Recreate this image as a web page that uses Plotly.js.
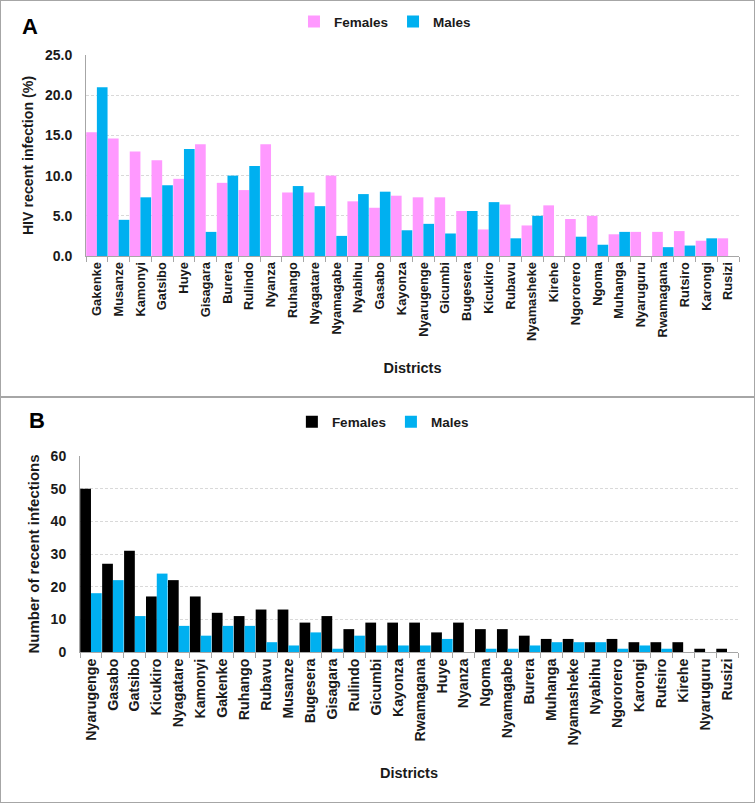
<!DOCTYPE html>
<html>
<head>
<meta charset="utf-8">
<script src="https://cdn.plot.ly/plotly-3.0.1.min.js"></script>
<style>
  body { margin: 0; background: #fff; }
  .chart { position: absolute; left: 0; width: 756px; }
  .box { position: absolute; border: 1.5px solid #a6a6a6; pointer-events: none; box-sizing: border-box; }
</style>
</head>
<body>
<div id="chartA" class="chart" style="top:0px;height:396px;"></div>
<div id="chartB" class="chart" style="top:398px;height:405px;"></div>
<div class="box" style="left:0px;top:0px;width:755px;height:397px;"></div>
<div class="box" style="left:0px;top:397px;width:755px;height:406px;"></div>
<script>
// Panel A: HIV recent infection (%) by district
var districtsA = ["Gakenke", "Musanze", "Kamonyi", "Gatsibo", "Huye", "Gisagara", "Burera", "Rulindo",
  "Nyanza", "Ruhango", "Nyagatare", "Nyamagabe", "Nyabihu", "Gasabo", "Kayonza", "Nyarugenge",
  "Gicumbi", "Bugesera", "Kicukiro", "Rubavu", "Nyamasheke", "Kirehe", "Ngororero", "Ngoma",
  "Muhanga", "Nyaruguru", "Rwamagana", "Rutsiro", "Karongi", "Rusizi"];
var femalesA = [15.4, 14.6, 13.0, 11.9, 9.6, 13.9, 9.1, 8.2, 13.9, 7.9, 7.9, 10.0, 6.8, 6.0, 7.5, 7.3,
  7.3, 5.6, 3.3, 6.4, 3.8, 6.3, 4.6, 5.0, 2.7, 3.0, 3.0, 3.1, 1.9, 2.2];
var malesA = [21.0, 4.5, 7.3, 8.8, 13.3, 3.0, 10.0, 11.2, 0, 8.7, 6.2, 2.5, 7.7, 8.0, 3.2, 4.0,
  2.8, 5.6, 6.7, 2.2, 5.0, 0, 2.4, 1.4, 3.0, 0, 1.1, 1.3, 2.2, 0];
var ticksA = [0, 5, 10, 15, 20, 25];

// Panel B: number of recent infections by district
var districtsB = ["Nyarugenge", "Gasabo", "Gatsibo", "Kicukiro", "Nyagatare", "Kamonyi", "Gakenke",
  "Ruhango", "Rubavu", "Musanze", "Bugesera", "Gisagara", "Rulindo", "Gicumbi", "Kayonza",
  "Rwamagana", "Huye", "Nyanza", "Ngoma", "Nyamagabe", "Burera", "Muhanga", "Nyamasheke",
  "Nyabihu", "Ngororero", "Karongi", "Rutsiro", "Kirehe", "Nyaruguru", "Rusizi"];
var femalesB = [50, 27, 31, 17, 22, 17, 12, 11, 13, 13, 9, 11, 7, 9, 9, 9, 6, 9, 7, 7, 5, 4, 4, 3, 4, 3, 3, 3, 1, 1];
var malesB = [18, 22, 11, 24, 8, 5, 8, 8, 3, 2, 6, 1, 5, 2, 2, 2, 4, 0, 1, 1, 2, 3, 3, 3, 1, 2, 1, 0, 0, 0];
var ticksB = [0, 10, 20, 30, 40, 50, 60];

var FONT = "'Liberation Sans', Arial, sans-serif";
var TXT = "#1a1a1a";

function makeLayout(opts) {
  var m = opts.margin;
  m.autoexpand = false;
  return {
    width: 756,
    height: opts.height,
    margin: m,
    paper_bgcolor: "rgba(0,0,0,0)",
    plot_bgcolor: "rgba(0,0,0,0)",
    barmode: "group",
    bargap: 0.02,
    bargroupgap: 0,
    showlegend: true,
    legend: {
      orientation: "h",
      x: opts.legX, xanchor: "left",
      y: opts.legY, yanchor: "middle",
      itemwidth: 30,
      font: {family: FONT, size: 13.5, color: TXT, weight: "bold"},
      bgcolor: "rgba(0,0,0,0)"
    },
    font: {family: FONT, color: TXT},
    xaxis: {
      type: "category",
      tickangle: -90,
      tickson: "boundaries",
      ticks: "outside",
      ticklen: 5,
      tickcolor: "#a6a6a6",
      showline: true,
      linecolor: "#a6a6a6",
      linewidth: 1,
      showgrid: false,
      automargin: false,
      tickfont: {family: FONT, size: opts.xTickSize, color: TXT, weight: "bold"},
      title: {text: "Districts", standoff: opts.xStandoff,
        font: {family: FONT, size: 14.5, color: TXT, weight: "bold"}}
    },
    yaxis: {
      range: opts.yRange,
      tickvals: opts.yTicks,
      ticktext: opts.yTicks.map(opts.fmt),
      showline: true,
      linecolor: "#a6a6a6",
      linewidth: 1,
      showgrid: true,
      gridcolor: "#d9d9d9",
      griddash: "3px,2px",
      zeroline: false,
      ticks: "",
      ticklabelstandoff: 10,
      automargin: false,
      tickfont: {family: FONT, size: 14, color: TXT, weight: "bold"},
      title: {text: opts.yTitle, standoff: 7,
        font: {family: FONT, size: opts.yTitleSize, color: TXT, weight: "bold"}}
    },
    annotations: [{
      text: opts.letter, xref: "paper", yref: "paper",
      x: opts.letX, y: opts.letY, xanchor: "left", yanchor: "middle",
      showarrow: false,
      font: {family: FONT, size: 22, color: "#000", weight: "bold"}
    }]
  };
}

var tracesA = [
  {type: "bar", name: "Females", x: districtsA, y: femalesA, marker: {color: "#ff99ff"}},
  {type: "bar", name: "Males", x: districtsA, y: malesA, marker: {color: "#00b0f0"}}
];
var layoutA = makeLayout({
  height: 396,
  margin: {l: 86, r: 17, t: 55, b: 140},
  yRange: [0, 25], yTicks: ticksA, fmt: function (v) { return v.toFixed(1); },
  yTitle: "HIV recent infection (%)", yTitleSize: 14.2,
  xTickSize: 12.9, xStandoff: 22,
  legX: 0.3185, legY: 1.166,
  letter: "A", letX: -0.101, letY: 1.144
});
Plotly.newPlot("chartA", tracesA, layoutA, {displayModeBar: false, staticPlot: true});

var tracesB = [
  {type: "bar", name: "Females", x: districtsB, y: femalesB, marker: {color: "#000000"}},
  {type: "bar", name: "Males", x: districtsB, y: malesB, marker: {color: "#00b0f0"}}
];
var layoutB = makeLayout({
  height: 405,
  margin: {l: 80, r: 18, t: 57.7, b: 150.7},
  yRange: [0, 60], yTicks: ticksB, fmt: function (v) { return String(v); },
  yTitle: "Number of recent infections", yTitleSize: 15,
  xTickSize: 14.2, xStandoff: 23,
  legX: 0.322, legY: 1.173,
  letter: "B", letX: -0.0805, letY: 1.182
});
Plotly.newPlot("chartB", tracesB, layoutB, {displayModeBar: false, staticPlot: true});
</script>
</body>
</html>
